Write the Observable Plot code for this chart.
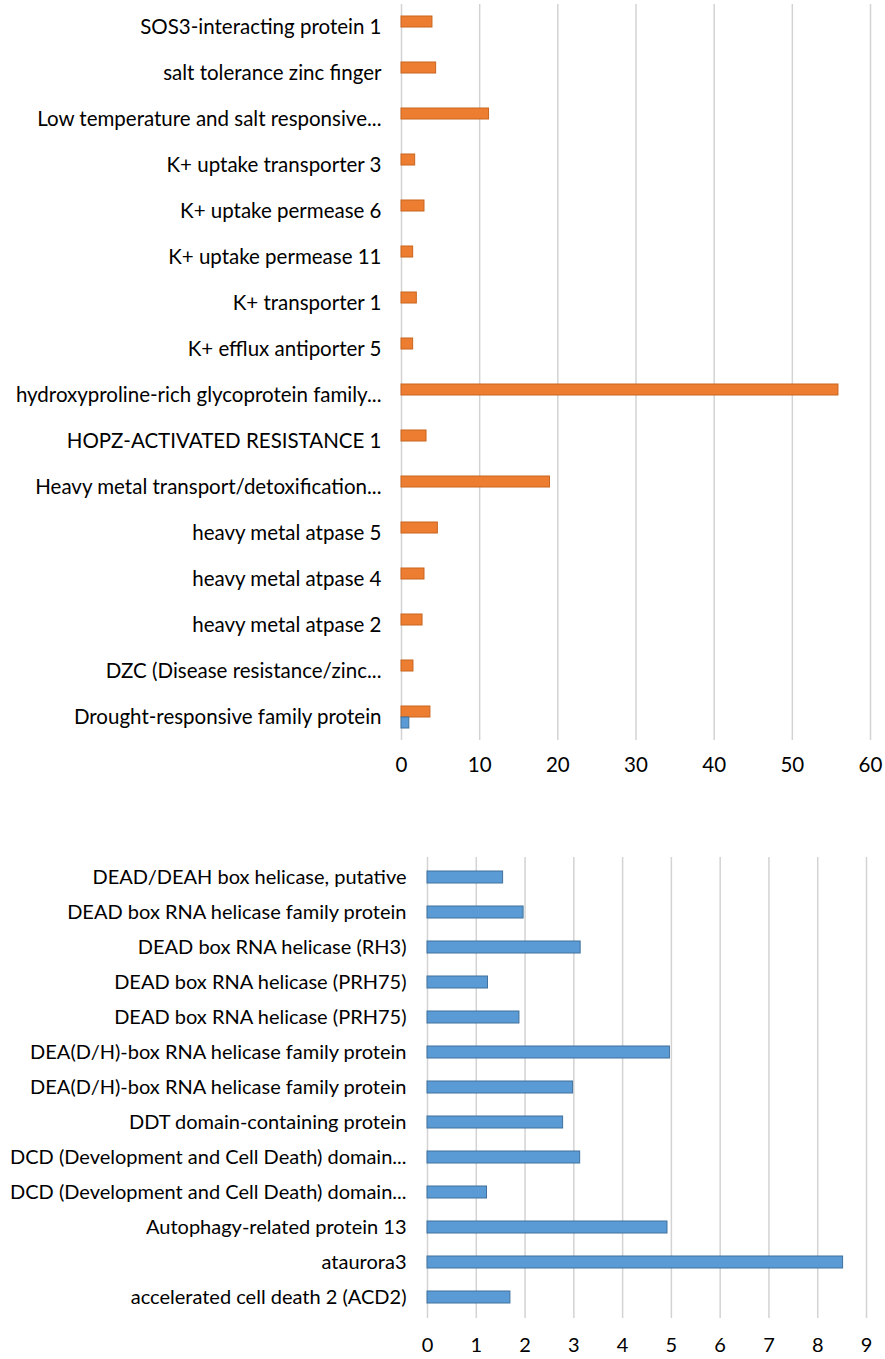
<!DOCTYPE html>
<html><head><meta charset="utf-8">
<script src="https://cdn.jsdelivr.net/npm/d3@7"></script>
<script src="https://cdn.jsdelivr.net/npm/@observablehq/plot@0.6"></script>
<style>body{margin:0;background:#fff} svg{display:block}</style>
</head><body><div id="chart"></div>
<script>
// ---- Top chart data ----
const topCategories = [
  "SOS3-interacting protein 1",
  "salt tolerance zinc finger",
  "Low temperature and salt responsive...",
  "K+ uptake transporter 3",
  "K+ uptake permease 6",
  "K+ uptake permease 11",
  "K+ transporter 1",
  "K+ efflux antiporter 5",
  "hydroxyproline-rich glycoprotein family...",
  "HOPZ-ACTIVATED RESISTANCE 1",
  "Heavy metal transport/detoxification...",
  "heavy metal atpase 5",
  "heavy metal atpase 4",
  "heavy metal atpase 2",
  "DZC (Disease resistance/zinc...",
  "Drought-responsive family protein"
];
const topOrange = [3.96, 4.43, 11.2, 1.75, 2.94, 1.49, 1.96, 1.49, 55.9, 3.2, 19.0, 4.65, 2.94, 2.69, 1.53, 3.7];
const topBlue   = [0, 0, 0, 0, 0, 0, 0, 0, 0, 0, 0, 0, 0, 0, 0, 1.0];
const topTicks = [0, 10, 20, 30, 40, 50, 60];

// ---- Bottom chart data ----
const bottomCategories = [
  "DEAD/DEAH box helicase, putative",
  "DEAD box RNA helicase family protein",
  "DEAD box RNA helicase (RH3)",
  "DEAD box RNA helicase (PRH75)",
  "DEAD box RNA helicase (PRH75) ",
  "DEA(D/H)-box RNA helicase family protein",
  "DEA(D/H)-box RNA helicase family protein ",
  "DDT domain-containing protein",
  "DCD (Development and Cell Death) domain...",
  "DCD (Development and Cell Death) domain... ",
  "Autophagy-related protein 13",
  "ataurora3",
  "accelerated cell death 2 (ACD2)"
];
const bottomBlue = [1.55, 1.97, 3.14, 1.24, 1.885, 4.97, 2.985, 2.78, 3.13, 1.22, 4.92, 8.52, 1.70];
const bottomTicks = [0, 1, 2, 3, 4, 5, 6, 7, 8, 9];

const ORANGE = "#ED7D31", ORANGE_EDGE = "#C9651F";
const BLUE = "#5B9BD5", BLUE_EDGE = "#41719C";
const GRID = "#d3d3d3";
const FONT = "Lato, 'Open Sans', sans-serif";

const topData = [];
topCategories.forEach((c, i) => {
  topData.push({category: c, series: "Series2", value: topOrange[i]});
  topData.push({category: c, series: "Series1", value: topBlue[i]});
});
const bottomData = bottomCategories.map((c, i) => ({category: c, value: bottomBlue[i]}));

const topChart = Plot.plot({
  width: 885, height: 800,
  marginTop: 3, marginBottom: 60, marginLeft: 401, marginRight: 15,
  style: {fontFamily: FONT, fontSize: "20.5px", color: "#000", background: "#fff"},
  facet: {data: topData, y: "category", label: null},
  fy: {domain: topCategories, padding: 0, axis: "left", label: null, tickSize: 0, tickPadding: 20},
  y: {domain: ["Series2", "Series1"], axis: null, paddingInner: 0, paddingOuter: 1.05},
  x: {domain: [0, 60], ticks: topTicks, tickSize: 0, tickPadding: 17, label: null},
  marks: [
    Plot.gridX(topTicks, {stroke: GRID, strokeOpacity: 1, strokeWidth: 1.5}),
    Plot.barX(topData, {filter: d => d.series === "Series2" && d.value > 0, y: "series", x: "value", fill: ORANGE, stroke: ORANGE_EDGE, strokeWidth: 1}),
    Plot.barX(topData, {filter: d => d.series === "Series1" && d.value > 0, y: "series", x: "value", fill: BLUE, stroke: BLUE_EDGE, strokeWidth: 1})
  ]
});

const bottomChart = Plot.plot({
  width: 885, height: 559,
  marginTop: 57, marginBottom: 41, marginLeft: 427, marginRight: 19,
  style: {fontFamily: FONT, fontSize: "20px", color: "#000", background: "#fff"},
  y: {domain: bottomCategories, paddingInner: 0.65, paddingOuter: 0.325, tickSize: 0, tickPadding: 21, label: null,
      tickFormat: d => d.trim()},
  x: {domain: [0, 9], ticks: bottomTicks, tickSize: 0, tickPadding: 19, label: null},
  marks: [
    Plot.gridX(bottomTicks, {stroke: GRID, strokeOpacity: 1, strokeWidth: 1.5}),
    Plot.barX(bottomData, {y: "category", x: "value", fill: BLUE, stroke: BLUE_EDGE, strokeWidth: 1})
  ]
});

const root = document.getElementById("chart");
root.appendChild(topChart);
root.appendChild(bottomChart);
</script>
</body></html>
